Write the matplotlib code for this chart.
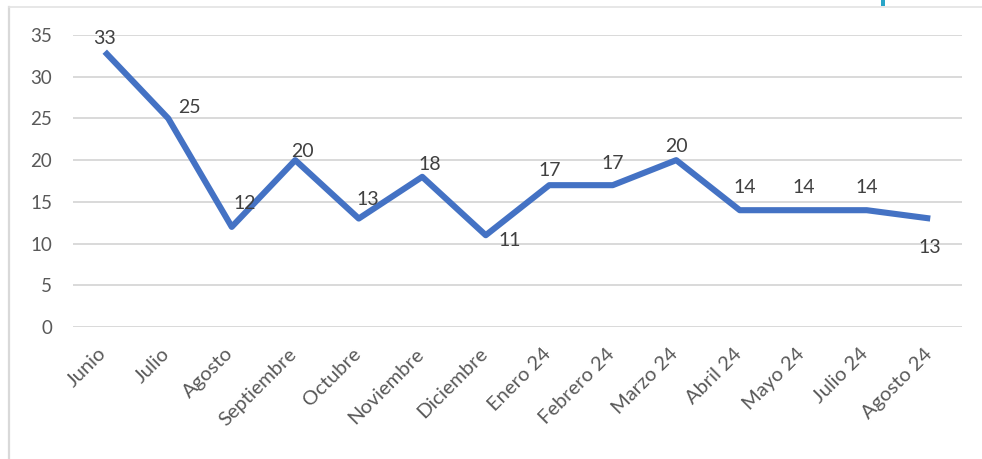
import matplotlib
matplotlib.use("Agg")
import matplotlib.pyplot as plt
import matplotlib.transforms as mtransforms
from matplotlib.patches import Rectangle
from matplotlib.lines import Line2D

## datos
meses = ['Junio', 'Julio', 'Agosto', 'Septiembre', 'Octubre', 'Noviembre', 'Diciembre',
         'Enero 24', 'Febrero 24', 'Marzo 24', 'Abril 24', 'Mayo 24', 'Julio 24', 'Agosto 24']
valores = [33, 25, 12, 20, 13, 18, 11, 17, 17, 20, 14, 14, 14, 13]
y_ticks = [0, 5, 10, 15, 20, 25, 30, 35]

## desplazamiento de cada etiqueta (pixeles), como en el original de Excel
label_offsets = [(0, 13), (21, 11), (13, 23), (7, 9), (9, 19), (8, 12), (24, -5),
                 (0, 15), (0, 22), (0, 14), (5, 23), (0, 23), (0, 23), (0, -29)]

plt.rcParams['font.family'] = ['Lato', 'DejaVu Sans']

fig = plt.figure(figsize=(9.82, 4.59), dpi=100)
W, H = 982, 459
ax = fig.add_axes([73 / W, 1 - 327 / H, (962 - 73) / W, (327 - 35) / H])

x = list(range(len(meses)))
ax.plot(x, valores, color='#4472C4', lw=4.4, solid_joinstyle='round',
        solid_capstyle='butt', zorder=3)

for xi, v, (dx, dy) in zip(x, valores, label_offsets):
    ax.annotate(str(v), (xi, v), xytext=(dx, dy), textcoords='offset pixels',
                ha='center', va='center', fontsize=14, color='#404040', zorder=4)

ax.set_xlim(-0.5, len(meses) - 0.5)
ax.set_ylim(0, 35)
ax.set_yticks(y_ticks)
ax.set_xticks(x)
ax.set_xticklabels(meses, rotation=45, ha='right', rotation_mode='default')
ax.tick_params(axis='both', length=0, labelcolor='#595959')
ax.tick_params(axis='y', pad=15, labelsize=13.5)
ax.tick_params(axis='x', pad=13, labelsize=14.5)
## un poco a la derecha, como Excel
shift = mtransforms.ScaledTranslation(5 / 100, 0, fig.dpi_scale_trans)
for lbl in ax.get_xticklabels():
    lbl.set_transform(lbl.get_transform() + shift)
ax.grid(axis='y', color='#d9d9d9', lw=1.4)
ax.set_axisbelow(True)
for key, spine in ax.spines.items():
    spine.set_visible(False)

## marco del grafico y detalles del recorte
fig.add_artist(Line2D([9 / W, 9 / W], [0, 1 - 7 / H], transform=fig.transFigure,
                      color='#d9d9d9', lw=1.6))
fig.add_artist(Line2D([9 / W, 1], [1 - 7 / H, 1 - 7 / H], transform=fig.transFigure,
                      color='#e3e3e3', lw=1.2))
fig.add_artist(Rectangle((881 / W, 1 - 6 / H), 4 / W, 6 / H, transform=fig.transFigure,
                         color='#2aa5c8', lw=0))

fig.savefig('out.png', dpi=100)
